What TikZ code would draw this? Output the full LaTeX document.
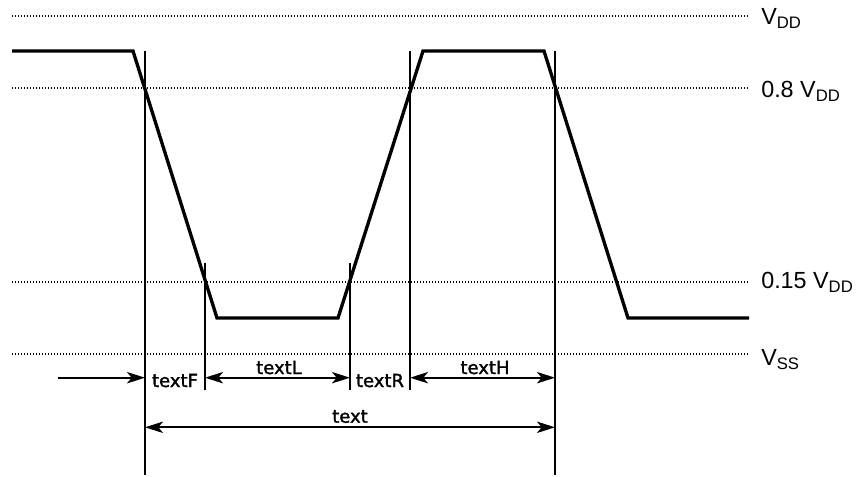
\documentclass[tikz,border=0pt]{standalone}
\usepackage{fontspec}
\setmainfont{Liberation Sans}
\newfontfamily\lblfont[FakeBold=1.6]{DejaVu Sans}
\usetikzlibrary{arrows.meta}
\newcommand{\lvlsub}[1]{\raisebox{-3pt}{\fontsize{12.5}{12}\selectfont #1}}
\begin{document}
\begin{tikzpicture}[x=0.75pt,y=-0.75pt,
  wave/.style={line width=2.5pt, line join=miter},
  vline/.style={line width=1.9pt},
  level/.style={line width=1.2pt, dash pattern=on 1pt off 1.25pt},
  tip/.tip={Stealth[length=13.5pt,width=8.5pt,inset=3.5pt]},
  dimline/.style={line width=1.6pt},
  lvltext/.style={anchor=base west, inner sep=0pt, font=\fontsize{17.5}{20}\selectfont},
  timetext/.style={anchor=base, inner sep=0pt, font=\lblfont\fontsize{13.5}{16}\selectfont}
]
\useasboundingbox (0,0) rectangle (862,477);

% levels
\coordinate (vddL) at (12,16);   \coordinate (vddR) at (750,16);
\coordinate (v80L) at (12,88);   \coordinate (v80R) at (750,88);
\coordinate (v15L) at (12,282);  \coordinate (v15R) at (750,282);
\coordinate (vssL) at (12,354);  \coordinate (vssR) at (750,354);
\draw[level] (vddL) -- (vddR);
\draw[level] (v80L) -- (v80R);
\draw[level] (v15L) -- (v15R);
\draw[level] (vssL) -- (vssR);

\node[lvltext] (lvdd) at (761,25) {V\lvlsub{DD}};
\node[lvltext] (lv80) at (761,98) {0.8 V\lvlsub{DD}};
\node[lvltext] (lv15) at (761,288) {0.15 V\lvlsub{DD}};
\node[lvltext] (lvss) at (761,365) {V\lvlsub{SS}};

% waveform
\coordinate (w0) at (12,51);
\coordinate (w1) at (133,51);
\coordinate (w2) at (217,318);
\coordinate (w3) at (338,318);
\coordinate (w4) at (423,51);
\coordinate (w5) at (544,51);
\coordinate (w6) at (628,318);
\coordinate (w7) at (749,318);
\draw[wave] (w0) -- (w1) -- (w2) -- (w3) -- (w4) -- (w5) -- (w6) -- (w7);

% vertical markers
\coordinate (m1t) at (145,51);  \coordinate (m1b) at (145,475);
\coordinate (m2t) at (205,263); \coordinate (m2b) at (205,390);
\coordinate (m3t) at (350,263); \coordinate (m3b) at (350,390);
\coordinate (m4t) at (410,51);  \coordinate (m4b) at (410,390);
\coordinate (m5t) at (555,51);  \coordinate (m5b) at (555,475);
\draw[vline] (m1t) -- (m1b);
\draw[vline] (m2t) -- (m2b);
\draw[vline] (m3t) -- (m3b);
\draw[vline] (m4t) -- (m4b);
\draw[vline] (m5t) -- (m5b);

% dimension arrows
\coordinate (a0) at (58,377.7);
\coordinate (a1) at (145,377.7);
\coordinate (a2) at (205,377.7);
\coordinate (a3) at (350,377.7);
\coordinate (a4) at (410,377.7);
\coordinate (a5) at (555,377.7);
\coordinate (b1) at (145,427.3);
\coordinate (b5) at (555,427.3);
\draw[dimline,-tip] (a0) -- (a1);
\draw[dimline,tip-tip] (a2) -- (a3);
\draw[dimline,tip-tip] (a4) -- (a5);
\draw[dimline,tip-tip] (b1) -- (b5);

\node[timetext] (tF) at (175,387) {textF};
\node[timetext] (tL) at (279,374) {textL};
\node[timetext] (tR) at (380,387) {textR};
\node[timetext] (tH) at (485,374) {textH};
\node[timetext] (tT) at (350,422.7) {text};
\end{tikzpicture}
\end{document}
